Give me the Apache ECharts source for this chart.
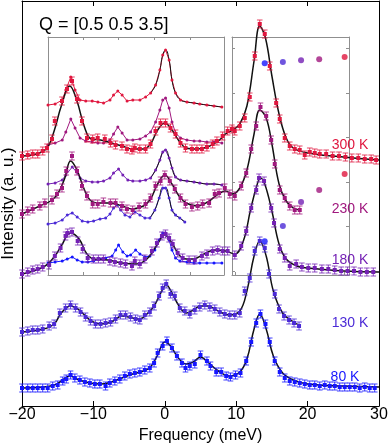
<!DOCTYPE html>
<html>
<head>
<meta charset="utf-8">
<title>Q = [0.5 0.5 3.5]</title>
<script src="https://cdn.jsdelivr.net/npm/echarts@6/dist/echarts.min.js"></script>
<style>
  body { margin: 0; }
  #main { width: 388px; height: 443px; }
</style>
</head>
<body>
<div id="main"></div>
<script>
// temperatures, one colour each
var temps = [80, 130, 180, 230, 300];
var tempLabels = ['80 K', '130 K', '180 K', '230 K', '300 K'];
var tempColors = ['#1616ff', '#4b2ad6', '#7420b4', '#a0187e', '#e0173f'];

// main panel: [frequency meV, intensity a.u. (offset)]
var k80 = [[-20,18],[-19.2,18],[-18.5,18],[-17.8,18],[-17.1,18],[-16.4,18],[-15.7,20],[-15,21],[-14.3,25],[-13.8,27],[-13.2,31],[-12.6,28],[-11.9,26],[-11.2,24],[-10.5,23],[-9.8,22],[-9.1,22],[-8.3,20],[-7.7,23],[-7,25],[-6.3,27],[-5.6,30],[-4.9,32],[-4.2,33],[-3.5,34],[-2.8,36],[-2.1,38],[-1.5,43],[-1,53],[-0.3,60],[0.3,65],[1,58],[1.7,50],[2.4,43],[2.9,38],[3.5,40],[4.2,42],[5,51],[5.9,45],[6.4,40],[7.2,34],[7.9,34],[8.6,30],[9.2,29],[9.9,31],[10.6,33],[11.4,45],[12.1,64],[12.8,83],[13.4,92],[14.1,82],[14.7,64],[15.4,45],[16.1,34],[16.8,28],[17.5,25],[18.2,24],[18.9,23],[19.6,22],[20.3,21],[21,21],[21.7,20],[22.4,21],[23.1,20],[23.8,20],[24.5,19],[25.2,19],[25.9,19],[26.6,19],[27.3,18],[28,19],[28.7,18],[29.4,18]];
var k130 = [[-20,74],[-19.2,75],[-18.5,76],[-17.8,76],[-17.1,77],[-16.2,80],[-15.5,82],[-14.7,93],[-13.9,98],[-13.2,101],[-12.5,98],[-11.8,94],[-11.1,89],[-10.4,85],[-9.7,82],[-9,82],[-8.3,83],[-7.6,84],[-6.9,87],[-6.2,91],[-5.5,91],[-4.8,89],[-4.1,87],[-3.5,86],[-2.8,91],[-2.1,94],[-1.5,100],[-0.8,110],[-0.3,118],[0.2,122],[0.8,112],[1.4,110],[2.1,98],[2.8,95],[3.5,92],[4.2,96],[4.9,99],[5.6,101],[6.3,99],[7,97],[7.7,94],[8.4,92],[9.1,91],[9.8,91],[10.5,93],[11.2,115],[11.9,128],[12.6,155],[13.3,165],[14,158],[14.6,132],[15.4,112],[16,97],[16.7,90],[17.4,86],[18.1,83],[18.8,80]];
var k180 = [[-20,132],[-19.2,134],[-18.5,136],[-17.8,137],[-17.1,139],[-16.2,141],[-15.4,150],[-14.6,158],[-13.9,170],[-13.6,173],[-13,174],[-12.2,165],[-11.5,157],[-10.8,148],[-10,147],[-9.3,147],[-8.6,147],[-7.7,145],[-7,144],[-6.2,143],[-5.5,142],[-4.6,140],[-4.2,145],[-3.5,142],[-2.8,147],[-1.8,155],[-1.1,163],[-0.4,170],[0.1,172],[0.6,168],[1.1,162],[1.8,153],[2.5,148],[3.4,146],[4.2,146],[5.2,150],[5.9,152],[6.7,155],[7.4,156],[8.1,155],[8.8,155],[9.8,151],[10.7,160],[11.4,175],[12.1,198],[12.8,216],[13.2,228],[13.9,225],[14.9,198],[15.3,183],[16.1,157],[16.8,148],[17.5,140],[18.4,142],[19.2,139],[20.1,138],[21,138],[22,137],[22.9,137],[23.8,136],[24.7,135],[25.6,135],[26.5,135],[27.4,134],[28.3,134],[29.2,134]];
var k230 = [[-20,192],[-19.2,195],[-18.5,197],[-17.5,200],[-16.8,203],[-15.8,206],[-15.1,212],[-14.4,218],[-13.8,235],[-13,250],[-12.3,235],[-11.6,220],[-10.9,210],[-10.1,202],[-9.4,202],[-8.6,204],[-7.6,203],[-6.9,203],[-6,200],[-5.3,197],[-4.5,196],[-3.6,199],[-2.7,202],[-2,208],[-1.3,220],[-0.6,225],[0,231],[0.7,225],[1.4,217],[2.2,208],[2.9,202],[3.8,199],[4.6,200],[5.3,202],[6.2,203],[7,212],[7.6,213],[8.4,218],[9.1,212],[9.8,210],[10.7,220],[11.4,233],[12.1,257],[12.8,280],[13.4,299],[14.2,290],[14.9,266],[15.4,242],[16.1,216],[16.8,208],[17.5,200],[18.2,196],[18.9,196]];
var k300 = [[-20,250],[-19.2,251],[-18.5,252],[-17.8,252],[-17.1,255],[-16.5,258],[-15.8,267],[-15.4,285],[-14.4,305],[-13.7,317],[-13,325],[-12.3,307],[-11.6,285],[-10.9,268],[-10.1,267],[-9.4,268],[-8.4,267],[-7.6,263],[-6.9,261],[-6,260],[-5.3,257],[-4.6,256],[-4.2,258],[-3.5,257],[-2.7,257],[-2,262],[-1.3,275],[-0.6,283],[0.1,283],[0.8,278],[1.5,272],[2.2,263],[2.9,258],[3.8,257],[4.5,257],[5.2,257],[5.9,259],[6.7,262],[7.3,265],[8.1,270],[8.8,275],[9.4,277],[9.8,275],[10.5,280],[11.2,288],[11.9,309],[12.6,350],[13.3,382],[14,372],[14.7,340],[15.6,303],[16.1,287],[16.8,268],[17.5,260],[18.2,257],[18.9,256],[19.6,251],[20.3,254],[21,253],[21.7,252],[22.6,252],[23.5,250],[24.4,250],[25.3,249],[26.2,248],[27.1,248],[28,247],[28.9,247],[29.6,246]];

// fitted curves (black)
var fit80 = [[-20,18],[-17,19],[-15.5,21],[-14.5,25],[-13.3,30],[-12,26],[-10.5,23],[-9,22],[-7.5,24],[-6,28],[-4.5,32],[-3,35],[-2,39],[-1,51],[0,64],[0.8,60],[1.8,49],[3,42],[4,44],[5,49],[6,44],[7.5,35],[9,30],[10.5,34],[11.5,47],[12.5,77],[13.3,92],[14.2,77],[15.2,50],[16.5,33],[18,26],[20,22],[25,20],[30,19]];
var fit130 = [[-20,74],[-17,77],[-15.5,82],[-14.5,93],[-13.2,100],[-12,96],[-10.5,86],[-9,82],[-7.5,84],[-6,90],[-4.5,88],[-3.5,87],[-2.5,92],[-1.5,100],[-0.5,114],[0.2,121],[1,113],[2,100],[3,93],[4,96],[5,100],[6,100],[7.5,95],[9,91],[10.5,95],[11.5,115],[12.5,150],[13.3,165],[14.2,150],[15.2,115],[16.5,93],[18,84],[18.8,81]];
var fit180 = [[-20,132],[-17,139],[-15.5,149],[-14.5,160],[-13.2,173],[-12,167],[-11,153],[-10,147],[-8,146],[-6,143],[-4,142],[-2.5,147],[-1.2,160],[0,171],[1,163],[2,151],[3,147],[4,147],[5.5,152],[7,156],[8.5,155],[9.8,152],[11,165],[12,196],[12.8,218],[13.4,228],[14,222],[15,195],[16,162],[17,147],[18.5,140],[20,138],[25,135],[30,134]];
var fit230 = [[-20,192],[-17.5,200],[-16,205],[-15,212],[-14,228],[-13.2,245],[-12.3,236],[-11.3,217],[-10.3,205],[-9,203],[-7.5,203],[-6,200],[-4.5,197],[-3,200],[-2,207],[-1,222],[0,231],[1,222],[2,210],[3,203],[4.5,200],[6,204],[7.5,212],[8.5,215],[9.5,212],[10.5,218],[11.5,236],[12.5,272],[13.3,296],[14.2,288],[15,262],[16,222],[17,205],[18,198],[18.9,196]];
var fit300 = [[-20,250],[-18,252],[-16.5,258],[-15.5,275],[-14.5,300],[-13.3,320],[-12.3,305],[-11.3,280],[-10.3,267],[-9,266],[-7.5,263],[-6,260],[-4.5,257],[-3,257],[-2,262],[-1,276],[0,283],[1,276],[2,265],[3,258],[4.5,257],[6,259],[7.5,265],[8.5,272],[9.5,276],[10.5,282],[11.5,300],[12.5,345],[13.3,380],[14.1,368],[15,330],[16,292],[17,268],[18,258],[20,253],[25,249],[30,246]];

// left inset traces
var in80 = [[-16.4,12],[-15.4,13],[-14.4,14],[-13.7,16],[-13,18],[-12.3,15],[-11.6,13],[-10.8,13],[-10,14],[-9.1,16],[-8.3,17],[-7.4,19],[-6.9,25],[-6.5,30],[-5.9,23],[-5.3,19],[-4.8,20],[-4.1,25],[-3.5,21],[-2.8,18],[-2.1,19],[-1.4,25],[-0.8,35],[-0.3,42],[0.1,42],[0.6,35],[1,25],[1.5,17],[2.1,14],[3.1,13],[4.1,12],[4.9,12],[5.9,12],[6.9,12],[8,12]];
var in130 = [[-16.4,51],[-15.4,52],[-14.4,55],[-13.7,60],[-13,62],[-12.3,58],[-11.6,54],[-10.8,53],[-10,54],[-9.1,56],[-8.3,57],[-7.7,61],[-7.2,67],[-6.7,70],[-6.2,65],[-5.6,60],[-4.9,58],[-4.2,63],[-3.5,60],[-2.8,57],[-2.1,57],[-1.4,65],[-0.8,77],[-0.3,87],[0.1,87],[0.6,77],[1,65],[1.5,60],[2.1,57],[2.8,53]];
var in180 = [[-16.4,91],[-15.4,92],[-14.4,95],[-13.9,100],[-13,108],[-12.4,103],[-11.9,97],[-11.1,94],[-10.2,93],[-9.4,93],[-8.6,94],[-7.7,97],[-7.2,102],[-6.5,106],[-5.9,100],[-5.2,95],[-4.5,94],[-3.5,94],[-2.7,95],[-2,97],[-1.3,105],[-0.7,115],[-0.3,123],[0.1,125],[0.6,117],[1,107],[1.5,98],[2.2,95],[3.1,94],[4.1,93],[4.9,92],[5.9,91],[6.9,91],[8,90]];
var in230 = [[-16.4,130],[-15.4,132],[-14.4,135],[-13.9,143],[-13.2,156],[-12.6,147],[-11.9,137],[-11.1,134],[-10.2,133],[-9.4,132],[-8.6,132],[-7.7,135],[-7.2,141],[-6.6,148],[-6,142],[-5.3,135],[-4.5,135],[-3.5,136],[-2.7,139],[-2,143],[-1.3,153],[-0.7,165],[-0.3,175],[0.1,177],[0.6,167],[1,153],[1.5,142],[2.2,137],[3.1,135],[4.1,134],[4.9,134],[5.9,133],[6.9,133],[8,132]];
var in300 = [[-16.4,170],[-15.4,171],[-14.4,175],[-13.9,185],[-13.2,198],[-12.6,185],[-11.9,175],[-11.1,174],[-10.2,174],[-9.4,173],[-8.6,172],[-7.7,175],[-7.2,180],[-6.6,184],[-6,180],[-5.3,174],[-4.5,175],[-3.5,175],[-2.7,178],[-2,182],[-1.3,190],[-0.7,205],[-0.3,220],[0.1,225],[0.6,215],[1,195],[1.5,182],[2.2,175],[3.1,173],[4.1,172],[4.9,171],[5.9,170],[6.9,169],[8,168]];

// right inset: one dot per temperature
var dotsUpper = [4.67, 4.70, 4.74, 4.76, 4.81];
var dotsLower = [0.67, 1.01, 1.55, 1.82, 2.18];

var mainData = [k80, k130, k180, k230, k300];
var mainFits = [fit80, fit130, fit180, fit230, fit300];
var insetData = [in80, in130, in180, in230, in300];
var insetFitFrom = -2.5;

var font = 'Liberation Sans, Arial, Helvetica, sans-serif';
var gray = '#8f8f8f';

function errorBars(color) {
  return function (params, api) {
    var p = api.coord([api.value(0), api.value(1)]);
    var e = 4, c = 2.8;
    var st = { stroke: color, lineWidth: 1, opacity: 0.8 };
    return {
      type: 'group',
      children: [
        { type: 'line', shape: { x1: p[0], y1: p[1] - e, x2: p[0], y2: p[1] + e }, style: st },
        { type: 'line', shape: { x1: p[0] - c, y1: p[1] - e, x2: p[0] + c, y2: p[1] - e }, style: st },
        { type: 'line', shape: { x1: p[0] - c, y1: p[1] + e, x2: p[0] + c, y2: p[1] + e }, style: st },
        { type: 'rect', shape: { x: p[0] - 2, y: p[1] - 2, width: 4, height: 4 }, style: { fill: color } }
      ]
    };
  };
}

var series = [];

// left inset traces
insetData.forEach(function (d, i) {
  series.push({
    type: 'line', xAxisIndex: 2, yAxisIndex: 2, data: d, z: 2,
    symbol: 'circle', symbolSize: 3, showSymbol: true,
    lineStyle: { color: tempColors[i], width: 1 },
    itemStyle: { color: tempColors[i] }
  });
});
[in130, in180, in300].forEach(function (d) {
  series.push({
    type: 'line', xAxisIndex: 2, yAxisIndex: 2, z: 2, smooth: true, showSymbol: false,
    data: d.filter(function (p) { return p[0] >= insetFitFrom; }),
    lineStyle: { color: '#111', width: 1 }
  });
});

// main spectra: fits then data with error bars
mainData.forEach(function (d, i) {
  series.push({
    type: 'line', xAxisIndex: 0, yAxisIndex: 0, data: mainFits[i], z: 3,
    smooth: 0.4, showSymbol: false,
    lineStyle: { color: '#111', width: 1.5 }
  });
  series.push({
    type: 'custom', xAxisIndex: 0, yAxisIndex: 0, data: d, z: 4,
    renderItem: errorBars(tempColors[i])
  });
});

// right inset dots
[dotsUpper, dotsLower].forEach(function (vals) {
  series.push({
    type: 'scatter', xAxisIndex: 4, yAxisIndex: 4, z: 5, symbolSize: 6,
    data: temps.map(function (t, i) {
      return { value: [t, vals[i]], itemStyle: { color: tempColors[i] } };
    })
  });
});

var labelPos = [[345, 377], [350, 323], [350, 260], [350, 209], [350, 145]];
var graphic = tempLabels.map(function (t, i) {
  return {
    type: 'text', x: labelPos[i][0], y: labelPos[i][1], z: 10,
    style: { text: t, fill: tempColors[i], font: '14px ' + font, align: 'center', verticalAlign: 'middle' }
  };
});

function minus(v) { return String(v).replace('-', '\u2212'); }

var blackLine = { show: true, onZero: false, lineStyle: { color: '#000', width: 1 } };
var grayLine = { show: true, onZero: false, lineStyle: { color: gray, width: 1 } };

var option = {
  animation: false,
  textStyle: { fontFamily: font },
  title: {
    text: 'Q = [0.5 0.5 3.5]', left: 34, top: 11,
    textStyle: { fontSize: 18, fontWeight: 'normal', color: '#000', fontFamily: font }
  },
  grid: [
    { left: 22, right: 9, top: 1, bottom: 37, outerBoundsMode: 'none' },
    { left: 48, top: 37, width: 176, height: 238, outerBoundsMode: 'none' },
    { left: 232, top: 37, width: 117, height: 238, outerBoundsMode: 'none' }
  ],
  xAxis: [
    { gridIndex: 0, type: 'value', min: -20, max: 30, interval: 10, axisLine: blackLine,
      axisTick: { inside: true, length: 5, lineStyle: { color: '#000' } },
      axisLabel: { fontSize: 16, color: '#000', margin: 1, formatter: minus },
      splitLine: { show: false },
      name: 'Frequency (meV)', nameLocation: 'middle', nameGap: 15,
      nameTextStyle: { fontSize: 16, color: '#000' } },
    { gridIndex: 0, type: 'value', position: 'top', min: -20, max: 30, interval: 10, axisLine: blackLine,
      axisTick: { inside: true, length: 5, lineStyle: { color: '#000' } },
      axisLabel: { show: false }, splitLine: { show: false } },
    { gridIndex: 1, type: 'value', min: -16.4, max: 8.3, axisLine: grayLine,
      axisTick: { inside: true, length: 3, customValues: [-11.5, -6.5, -1.5, 3.5], lineStyle: { color: gray } },
      axisLabel: { show: false }, splitLine: { show: false } },
    { gridIndex: 1, type: 'value', position: 'top', min: -16.4, max: 8.3, axisLine: grayLine,
      axisTick: { inside: true, length: 3, customValues: [-11.5, -6.5, -1.5, 3.5], lineStyle: { color: gray } },
      axisLabel: { show: false }, splitLine: { show: false } },
    { gridIndex: 2, type: 'value', min: -10, max: 312, axisLine: grayLine,
      axisTick: { inside: true, length: 3, customValues: [0, 300], lineStyle: { color: gray } },
      axisLabel: { show: false }, splitLine: { show: false } },
    { gridIndex: 2, type: 'value', position: 'top', min: -10, max: 312, axisLine: grayLine,
      axisTick: { show: false }, axisLabel: { show: false }, splitLine: { show: false } }
  ],
  yAxis: [
    { gridIndex: 0, type: 'value', min: 0, max: 405, axisLine: blackLine,
      axisTick: { show: false }, axisLabel: { show: false }, splitLine: { show: false },
      name: 'Intensity (a. u.)', nameLocation: 'middle', nameGap: 5,
      nameTextStyle: { fontSize: 17, color: '#000' } },
    { gridIndex: 0, type: 'value', position: 'right', min: 0, max: 405, axisLine: blackLine,
      axisTick: { show: false }, axisLabel: { show: false }, splitLine: { show: false } },
    { gridIndex: 1, type: 'value', min: 0, max: 238, axisLine: grayLine,
      axisTick: { show: false }, axisLabel: { show: false }, splitLine: { show: false } },
    { gridIndex: 1, type: 'value', position: 'right', min: 0, max: 238, axisLine: grayLine,
      axisTick: { show: false }, axisLabel: { show: false }, splitLine: { show: false } },
    { gridIndex: 2, type: 'value', min: -0.09, max: 5.26, axisLine: grayLine,
      axisTick: { inside: true, length: 3, customValues: [0, 1, 2, 3, 4, 5], lineStyle: { color: gray } },
      axisLabel: { show: false }, splitLine: { show: false } },
    { gridIndex: 2, type: 'value', position: 'right', min: -0.09, max: 5.26, axisLine: grayLine,
      axisTick: { inside: true, length: 3, customValues: [0, 1, 2, 3, 4, 5], lineStyle: { color: gray } },
      axisLabel: { show: false }, splitLine: { show: false } }
  ],
  series: series,
  graphic: graphic
};

var chart = echarts.init(document.getElementById('main'));
chart.setOption(option);
</script>
</body>
</html>
